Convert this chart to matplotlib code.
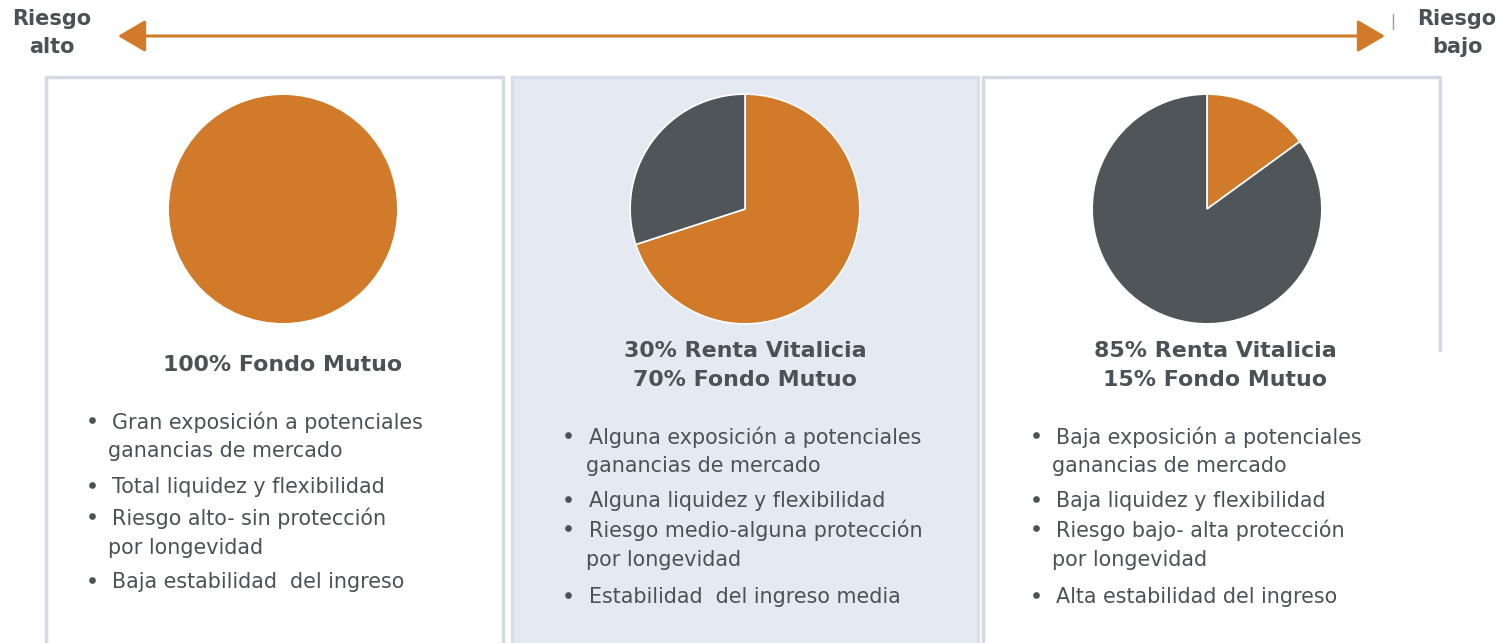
import matplotlib.pyplot as plt
from matplotlib.patches import Rectangle

ORANGE = "#D07A2A"
DARK = "#505559"
TEXT = "#4D5156"
BORDER = "#D3D9E5"
FILL2 = "#E4E9F2"

# data
fondo_mutuo = [100, 70, 15]
renta_vitalicia = [0, 30, 85]
titles = [["100% Fondo Mutuo"],
          ["30% Renta Vitalicia", "70% Fondo Mutuo"],
          ["85% Renta Vitalicia", "15% Fondo Mutuo"]]
bullets = [
    [["Gran exposición a potenciales", "ganancias de mercado"],
     ["Total liquidez y flexibilidad"],
     ["Riesgo alto- sin protección", "por longevidad"],
     ["Baja estabilidad  del ingreso"]],
    [["Alguna exposición a potenciales", "ganancias de mercado"],
     ["Alguna liquidez y flexibilidad"],
     ["Riesgo medio-alguna protección", "por longevidad"],
     ["Estabilidad  del ingreso media"]],
    [["Baja exposición a potenciales", "ganancias de mercado"],
     ["Baja liquidez y flexibilidad"],
     ["Riesgo bajo- alta protección", "por longevidad"],
     ["Alta estabilidad del ingreso"]],
]

W, H = 1507, 643
fig = plt.figure(figsize=(W / 100, H / 100), dpi=100)
ax = fig.add_axes([0, 0, 1, 1])
ax.set_xlim(0, W)
ax.set_ylim(H, 0)
ax.axis("off")

# panels
ax.add_patch(Rectangle((46, 77), 457, 600, fc="white", ec=BORDER, lw=2.5))
ax.add_patch(Rectangle((512, 77), 466, 600, fc=FILL2, ec="#D8DEEA", lw=2.5))
ax.add_patch(Rectangle((983, 77), 457, 600, fc="white", ec="none"))
ax.plot([983, 983, 1440, 1440], [660, 77, 77, 350], color=BORDER, lw=2.5)

# risk arrow
ax.annotate("", xy=(118, 36), xytext=(1385, 36),
            arrowprops=dict(arrowstyle="<|-|>,head_length=0.85,head_width=0.5",
                            mutation_scale=20, color=ORANGE, lw=2.2,
                            shrinkA=0, shrinkB=0))
ax.plot([1393, 1393], [14, 29], color="#9a9ea3", lw=1)
for x, words in [(52, ["Riesgo", "alto"]), (1457, ["Riesgo", "bajo"])]:
    ax.text(x, 19, words[0], ha="center", va="center", fontsize=15,
            fontweight="bold", color=TEXT)
    ax.text(x, 47, words[1], ha="center", va="center", fontsize=15,
            fontweight="bold", color=TEXT)

# pies
centers = [283, 745, 1207]
r = 116
for i, cx in enumerate(centers):
    pax = fig.add_axes([(cx - r) / W, (H - 209 - r) / H, 2 * r / W, 2 * r / H])
    vals = [fondo_mutuo[i], renta_vitalicia[i]]
    cols = [ORANGE, DARK]
    if vals[1] == 0:
        vals, cols = vals[:1], cols[:1]
    pax.pie(vals, colors=cols, startangle=90, counterclock=False,
            wedgeprops=dict(edgecolor="white", linewidth=1.2))
    pax.set_xlim(-1.01, 1.01)
    pax.set_ylim(-1.01, 1.01)

# titles
title_x = [283, 745, 1215]
title_y = [[365], [351, 380], [351, 380]]
for i in range(3):
    for line, y in zip(titles[i], title_y[i]):
        ax.text(title_x[i], y, line, ha="center", va="center", fontsize=15.9,
                fontweight="bold", color=TEXT)

# bullet lists
bullet_x = [92, 568, 1036]
text_x = [112, 589, 1056]
cont_x = [108, 586, 1052]
line_y = [[422, 451, 487, 518, 548, 582],
          [437, 466, 501, 530, 560, 597],
          [437, 466, 501, 530, 560, 597]]
for i in range(3):
    k = 0
    for item in bullets[i]:
        for j, line in enumerate(item):
            y = line_y[i][k]
            if j == 0:
                ax.plot(bullet_x[i], y - 2, "o", ms=4.8, color=TEXT, mew=0)
                ax.text(text_x[i], y, line, ha="left", va="center",
                        fontsize=14.9, color=TEXT)
            else:
                ax.text(cont_x[i], y, line, ha="left", va="center",
                        fontsize=14.9, color=TEXT)
            k += 1

fig.savefig("out.png", dpi=100)
